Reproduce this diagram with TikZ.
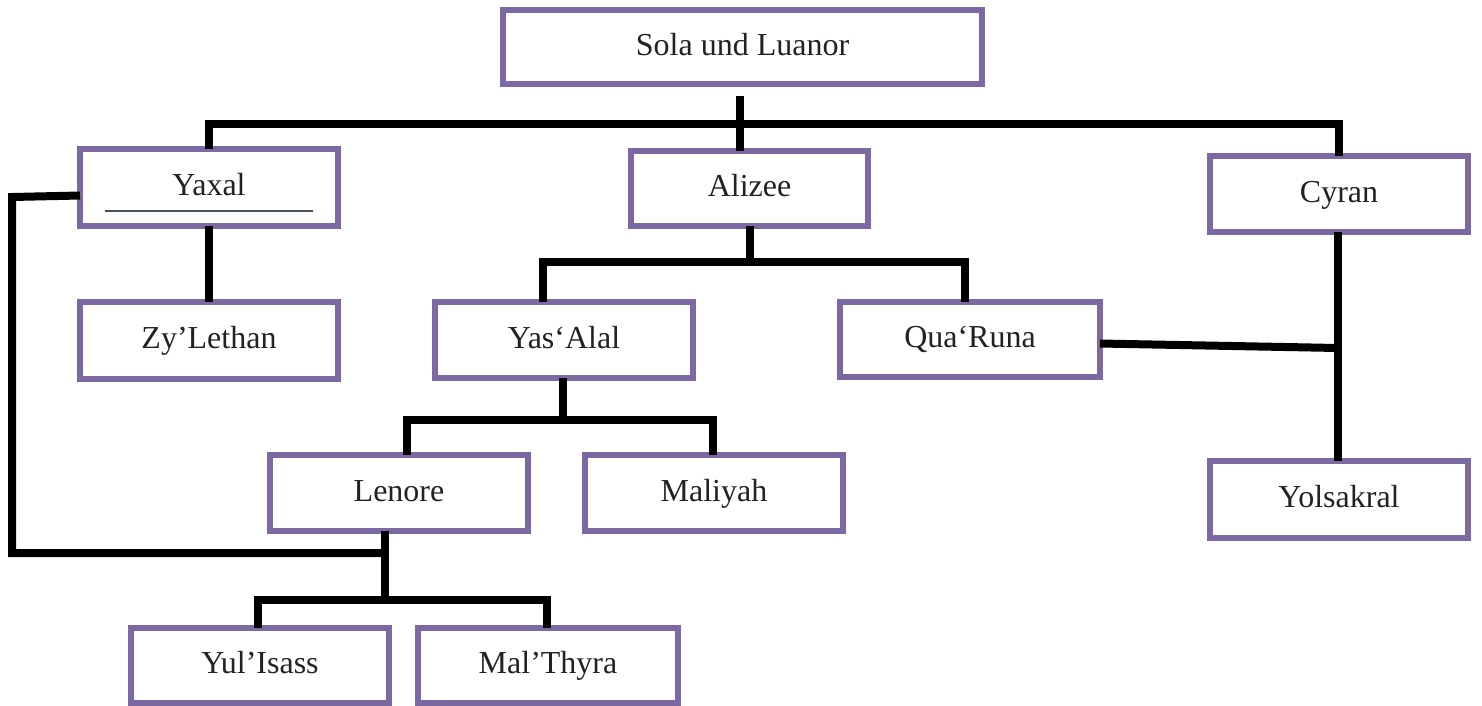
\documentclass[tikz,border=0pt]{standalone}
\usepackage{fontspec}
\setmainfont{Liberation Serif}
\definecolor{boxpurple}{HTML}{7C68A2}
\definecolor{ulcol}{HTML}{46525E}
\definecolor{txt}{HTML}{222222}
\begin{document}
\begin{tikzpicture}[x=1pt,y=-1pt,
  person/.style={draw=boxpurple,line width=6pt,fill=white,inner sep=0pt,
    text=txt,text height=24pt,text depth=8pt,
    minimum width=258pt,minimum height=76pt,font=\fontsize{32}{36}\selectfont},
  conn/.style={draw=black,line width=8pt}]
\useasboundingbox[fill=white] (0,0) rectangle (1482,705);
% bus coordinates
\coordinate (b1) at (740,124);
\coordinate (b2) at (750,262);
\coordinate (b3) at (563,420);
\coordinate (b4) at (385,600);
\coordinate (l1) at (12,197);
\coordinate (l2) at (385,553);
\coordinate (q1) at (1338,348);
% nodes
\node[person,minimum width=479pt,minimum height=74pt] (sola) at (742.5,47) {Sola und Luanor};
\node[person,minimum height=77pt] (yaxal) at (209,187.5) {Yaxal};
\node[person,minimum width=237pt,minimum height=75pt] (alizee) at (749.5,188.5) {Alizee};
\node[person] (cyran) at (1339,194) {Cyran};
\node[person,minimum height=77pt] (zy) at (209,340.5) {Zy’Lethan};
\node[person] (yas) at (564,340) {Yas‘Alal};
\node[person,minimum width=260pt,minimum height=75pt] (qua) at (970,339.5) {Qua‘Runa};
\node[person] (lenore) at (399,493) {Lenore};
\node[person] (maliyah) at (714,493) {Maliyah};
\node[person,minimum height=77pt] (yolsakral) at (1339,499.5) {Yolsakral};
\node[person,minimum height=75pt] (yul) at (260,665.5) {Yul’Isass};
\node[person,minimum width=260pt,minimum height=75pt] (mal) at (548,665.5) {Mal’Thyra};
% connectors
\draw[conn] (b1) -- ([yshift=-9pt]b1 |- sola.south);
\draw[conn] ([yshift=-3pt]yaxal.north) |- (b1) -| ([yshift=-3pt]cyran.north);
\draw[conn] (b1) -- ([yshift=-3pt]b1 |- alizee.north);
\draw[conn] ([yshift=3pt]yaxal.south) -- ([yshift=-3pt]zy.north);
\draw[conn] ([yshift=3pt]b2 |- alizee.south) -- (b2);
\draw[conn] ([xshift=-21pt,yshift=-3pt]yas.north) |- (b2) -| ([xshift=-5pt,yshift=-3pt]qua.north);
\draw[conn] ([yshift=3pt]b3 |- yas.south) -- (b3);
\draw[conn] ([xshift=8pt,yshift=-3pt]lenore.north) |- (b3) -| ([xshift=-1pt,yshift=-3pt]maliyah.north);
\draw[conn] ([yshift=3pt]b4 |- lenore.south) -- (b4);
\draw[conn] ([xshift=-2pt,yshift=-3pt]yul.north) |- (b4) -| ([xshift=-1pt,yshift=-3pt]mal.north);
\draw[conn] ([xshift=3pt,yshift=-8pt]yaxal.west) -- (l1) |- (l2);
\draw[conn] ([xshift=-1pt,yshift=3pt]cyran.south) -- ([xshift=-1pt,yshift=-3pt]yolsakral.north);
\draw[conn] ([xshift=-3pt,yshift=-4pt]qua.east) -- (q1);
% underline in Yaxal box
\draw[ulcol,line width=2.5pt] (105,211) -- (313,211);
\end{tikzpicture}
\end{document}
